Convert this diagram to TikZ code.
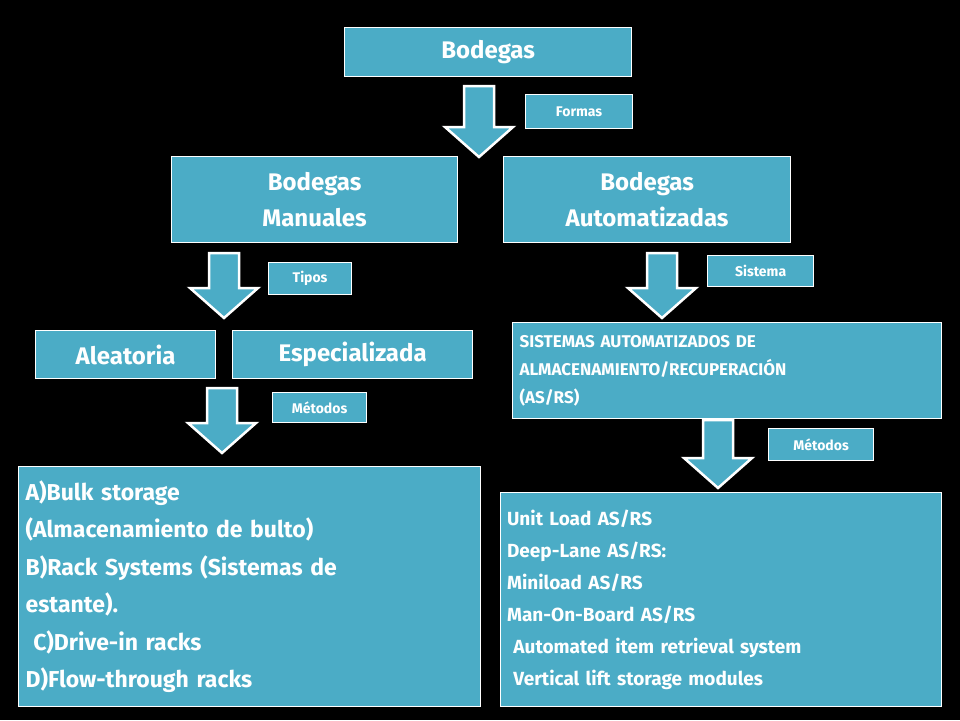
\documentclass[tikz,border=0pt]{standalone}
\usepackage{fontspec}
\setmainfont{Fira Sans}
\definecolor{teal}{HTML}{4BACC6}
\begin{document}
\begin{tikzpicture}[x=1pt,y=-1pt,
 bx/.style={draw=white,line width=1.2pt,fill=teal,text=white,font=\bfseries,inner sep=0pt},
 arr/.style={draw=white,line width=2.5pt,fill=teal,line join=miter}]
\fill[black] (0,0) rectangle (960,720);
\newcommand\bbox[6]{\node[bx,minimum width=#3-#1,minimum height=#4-#2,anchor=north west,#5] (n#1#2) at (#1,#2) {#6};}
\newcommand\darr[3]{\draw[arr] (#1-15,#2) -- (#1+15,#2) -- (#1+15,#3-30) -- (#1+34,#3-30) -- (#1,#3) -- (#1-34,#3-30) -- (#1-15,#3-30) -- cycle;}
\bbox{344}{27}{631}{76}{font=\bfseries\fontsize{24}{28}\selectfont}{Bodegas}
\bbox{525}{94}{632}{128}{font=\bfseries\fontsize{14}{16}\selectfont}{Formas}
\darr{479}{86}{157}
\bbox{171}{156}{457}{242}{align=center,font=\bfseries\fontsize{24}{36}\selectfont}{Bodegas\\Manuales}
\bbox{503}{156}{790}{242}{align=center,font=\bfseries\fontsize{24}{36}\selectfont}{Bodegas\\Automatizadas}
\darr{224}{253}{318}
\darr{662}{253}{318}
\bbox{268}{262}{351}{294}{font=\bfseries\fontsize{14}{16}\selectfont}{Tipos}
\bbox{707}{255}{813}{286}{font=\bfseries\fontsize{14}{16}\selectfont}{Sistema}
\bbox{35}{330}{215}{378}{font=\bfseries\fontsize{24}{28}\selectfont}{Aleatoria}
\bbox{232}{330}{472}{378}{font=\bfseries\fontsize{24}{28}\selectfont}{Especializada}
\bbox{512}{322}{941}{418}{align=left,text width=415,font=\bfseries\fontsize{17}{28}\selectfont}{SISTEMAS AUTOMATIZADOS DE\\ALMACENAMIENTO/RECUPERACIÓN\\(AS/RS)}
\darr{222}{388}{453}
\bbox{272}{392}{366}{422}{font=\bfseries\fontsize{14}{16}\selectfont}{Métodos}
\darr{718}{420}{488}
\bbox{768}{428}{873}{460}{font=\bfseries\fontsize{14}{16}\selectfont}{Métodos}
\bbox{18}{466}{480}{706}{align=left,text width=448,font=\bfseries\fontsize{23}{37.5}\selectfont}{A)Bulk storage\\(Almacenamiento de bulto)\\B)Rack Systems (Sistemas de\\estante).\\\ C)Drive-in racks\\D)Flow-through racks}
\bbox{500}{492}{941}{706}{align=left,text width=428,font=\bfseries\fontsize{19}{32}\selectfont}{Unit Load AS/RS\\Deep-Lane AS/RS:\\Miniload AS/RS\\Man-On-Board AS/RS\\\ Automated item retrieval system\\\ Vertical lift storage modules}
\end{tikzpicture}
\end{document}
